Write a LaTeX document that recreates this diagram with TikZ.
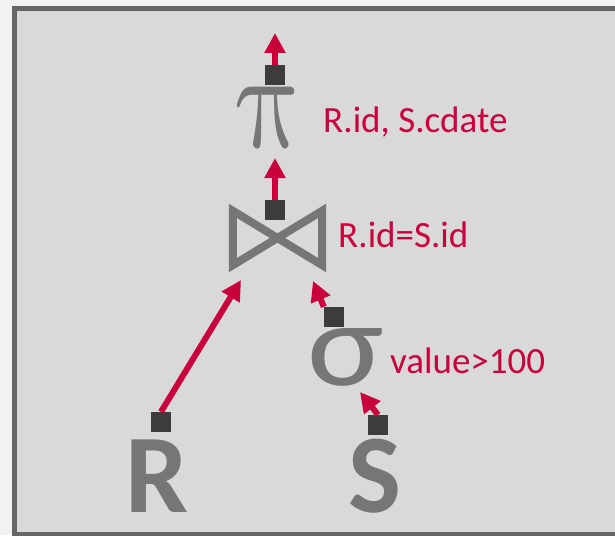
\documentclass[tikz,border=0pt]{standalone}
\usepackage{fontspec}
\setmainfont{Carlito}
\usetikzlibrary{arrows.meta,positioning}
\definecolor{qred}{RGB}{200,0,60}
\definecolor{qgray}{RGB}{118,118,118}
\definecolor{qport}{RGB}{60,60,60}
\definecolor{qpanel}{RGB}{217,217,217}
\definecolor{qframe}{RGB}{102,102,102}
\definecolor{qout}{RGB}{242,242,242}

\begin{document}
\begin{tikzpicture}[x=1pt,y=-1pt,
		port/.style={fill=qport,minimum size=20pt,inner sep=0pt},
		op/.style={text=qgray,inner sep=2pt},
		lbl/.style={text=qred,anchor=base west,inner sep=0pt,font=\fontsize{37}{40}\selectfont},
		flow/.style={draw=qred,line width=6pt,-{Triangle[width=20pt,length=20pt]}},
		bowtie/.style={draw=qgray,line width=8pt,line join=miter}]
			\useasboundingbox (0,0) rectangle (615,535);
			\fill[qout] (0,0) rectangle (615,535);
			\begin{scope}
				\clip (0,0) rectangle (615,535);
				\draw[line width=5pt,draw=qframe,fill=qpanel] (14.5,9) rectangle (650,534);
			\end{scope}

			% operators
			\node[op,xslant=-0.2] (proj) at (270,117) {\scalebox{11.2}[14]{$\pi$}};
			\node[minimum width=89pt,minimum height=54pt,inner sep=0pt] (join) at (277.5,238) {};
			\draw[bowtie] (join.north west) -- (join.south east) -- (join.north east) -- (join.south west) -- cycle;
			\node[op,font=\fontsize{120}{120}\selectfont] (sel) at (346,357) {\scalebox{1.2}[1]{σ}};
			\node[op,font=\bfseries\fontsize{112}{112}\selectfont] (R) at (157,476) {R};
			\node[op,font=\bfseries\fontsize{112}{112}\selectfont] (S) at (375,476) {S};

			\node[lbl] at (323,132) {R.id, S.cdate};
			\node[lbl] at (338,247) {R.id=S.id};
			\node[lbl] at (390,373) {value>100};

			% arrow ends
			\coordinate (out) at (275,33);
			\coordinate (projin) at (275,158);
			\coordinate (joinl) at (241,280);
			\coordinate (joinr) at (313,281);
			\coordinate (selin) at (360,392);

			\node[port] (projp) at (275,75) {};
			\node[port] (joinp) at (275,210) {};
			\node[port] (selp) at (334,317) {};
			\node[port] (Rp) at (161,422) {};
			\node[port] (Sp) at (378,425) {};

			\draw[flow] (projp.north) -- (out);
			\draw[flow] (joinp.north) -- (projin);
			\draw[flow] (selp.north west) -- (joinr);
			\draw[flow] (Rp.north) -- (joinl);
			\draw[flow] (Sp.north) -- (selin);
		\end{tikzpicture}
\end{document}
